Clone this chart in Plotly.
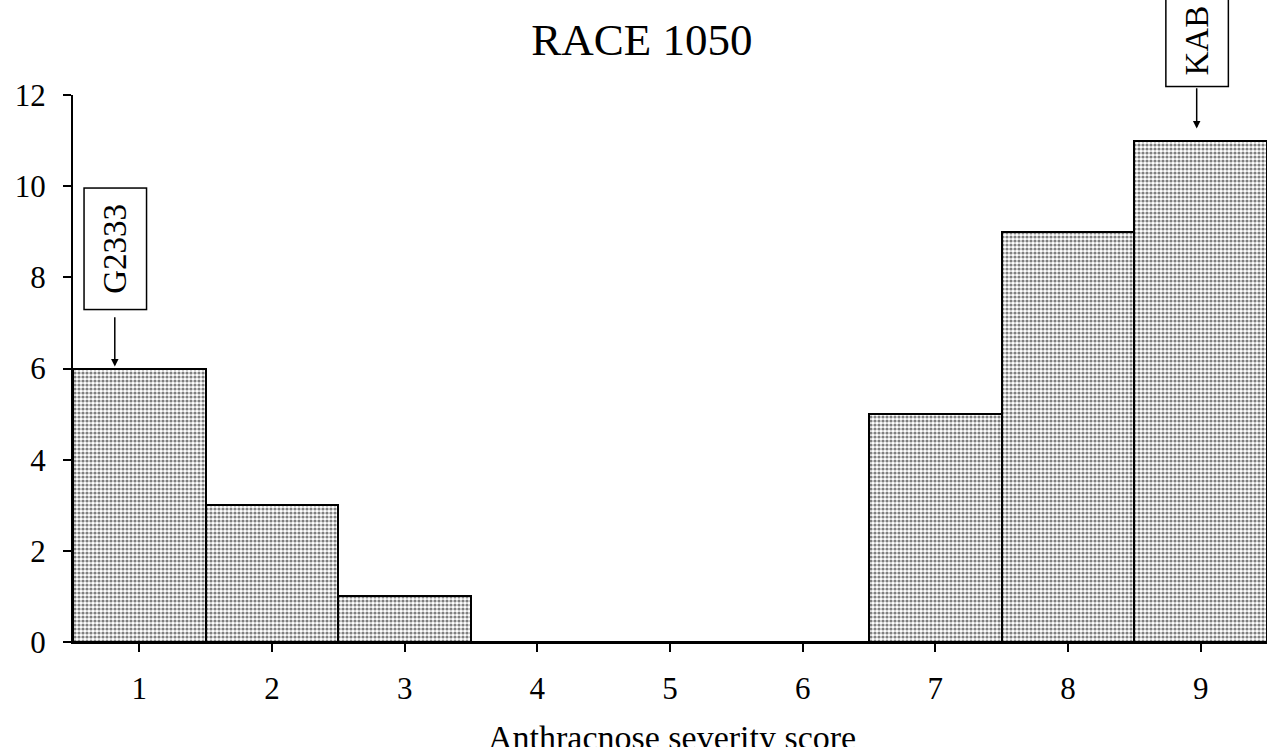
import plotly.graph_objects as go

scores = [1, 2, 3, 4, 5, 6, 7, 8, 9]
counts = [6, 3, 1, 0, 0, 0, 5, 9, 11]
y_ticks = [0, 2, 4, 6, 8, 10, 12]
title_text = "RACE 1050"
x_title = "Anthracnose severity score"
labels = [
    {"text": "G2333", "x": 0.815, "y": 6},
    {"text": "KAB", "x": 8.97, "y": 11},
]

FONT = "Liberation Serif, Times New Roman, serif"

fig = go.Figure()
fig.add_trace(go.Bar(
    x=scores, y=counts, width=1.0,
    marker=dict(
        color="white",
        line=dict(color="black", width=2),
        pattern=dict(shape=".", size=4, solidity=0.5, fgcolor="black", bgcolor="white"),
    ),
    showlegend=False,
))

fig.add_annotation(
    x=labels[0]["x"], y=labels[0]["y"], xref="x", yref="y",
    text=labels[0]["text"], textangle=-90,
    font=dict(family=FONT, size=33, color="black"),
    showarrow=True, ax=0, ay=-120, axref="pixel", ayref="pixel",
    arrowhead=2, arrowsize=1, arrowwidth=1.5, arrowcolor="black",
    standoff=2, startstandoff=8,
    bordercolor="black", borderwidth=1.5, borderpad=2,
    width=116, height=57, bgcolor="white",
)
fig.add_annotation(
    x=labels[1]["x"], y=labels[1]["y"], xref="x", yref="y",
    text="&nbsp;" + labels[1]["text"], textangle=-90, align="left",
    font=dict(family=FONT, size=33, color="black"),
    showarrow=True, ax=0, ay=-112, axref="pixel", ayref="pixel",
    arrowhead=2, arrowsize=1, arrowwidth=1.5, arrowcolor="black",
    standoff=12, startstandoff=2,
    bordercolor="black", borderwidth=1.5, borderpad=2,
    width=110, height=57, bgcolor="white",
)

# x-axis title placed as annotation so it can sit partly below the page edge
fig.add_annotation(
    x=0.5017, y=-0.137, xref="paper", yref="paper",
    text=x_title, showarrow=False, xanchor="center", yanchor="top",
    font=dict(family=FONT, size=34, color="black"),
)

fig.update_layout(
    width=1270, height=747,
    margin=dict(l=73, r=3, t=95, b=105),
    paper_bgcolor="white", plot_bgcolor="white",
    bargap=0,
    title=dict(text=title_text, x=0.5055, xanchor="center", y=0.947, yanchor="middle",
               yref="container", font=dict(family=FONT, size=45, color="black")),
    font=dict(family=FONT, color="black"),
)
fig.update_xaxes(
    range=[0.5, 9.5], tickvals=scores, ticktext=[str(s) for s in scores],
    ticks="outside", ticklen=8, tickwidth=2, tickcolor="black",
    showline=True, linecolor="black", linewidth=2, showgrid=False, zeroline=False,
    tickfont=dict(family=FONT, size=31, color="black"), ticklabelstandoff=10,
    automargin=False,
)
fig.update_yaxes(
    range=[0, 12], tickvals=y_ticks,
    ticks="outside", ticklen=8, tickwidth=2, tickcolor="black",
    showline=True, linecolor="black", linewidth=2, showgrid=False, zeroline=False,
    tickfont=dict(family=FONT, size=31, color="black"), ticklabelstandoff=11,
    automargin=False,
)

fig.write_html("out.html")
